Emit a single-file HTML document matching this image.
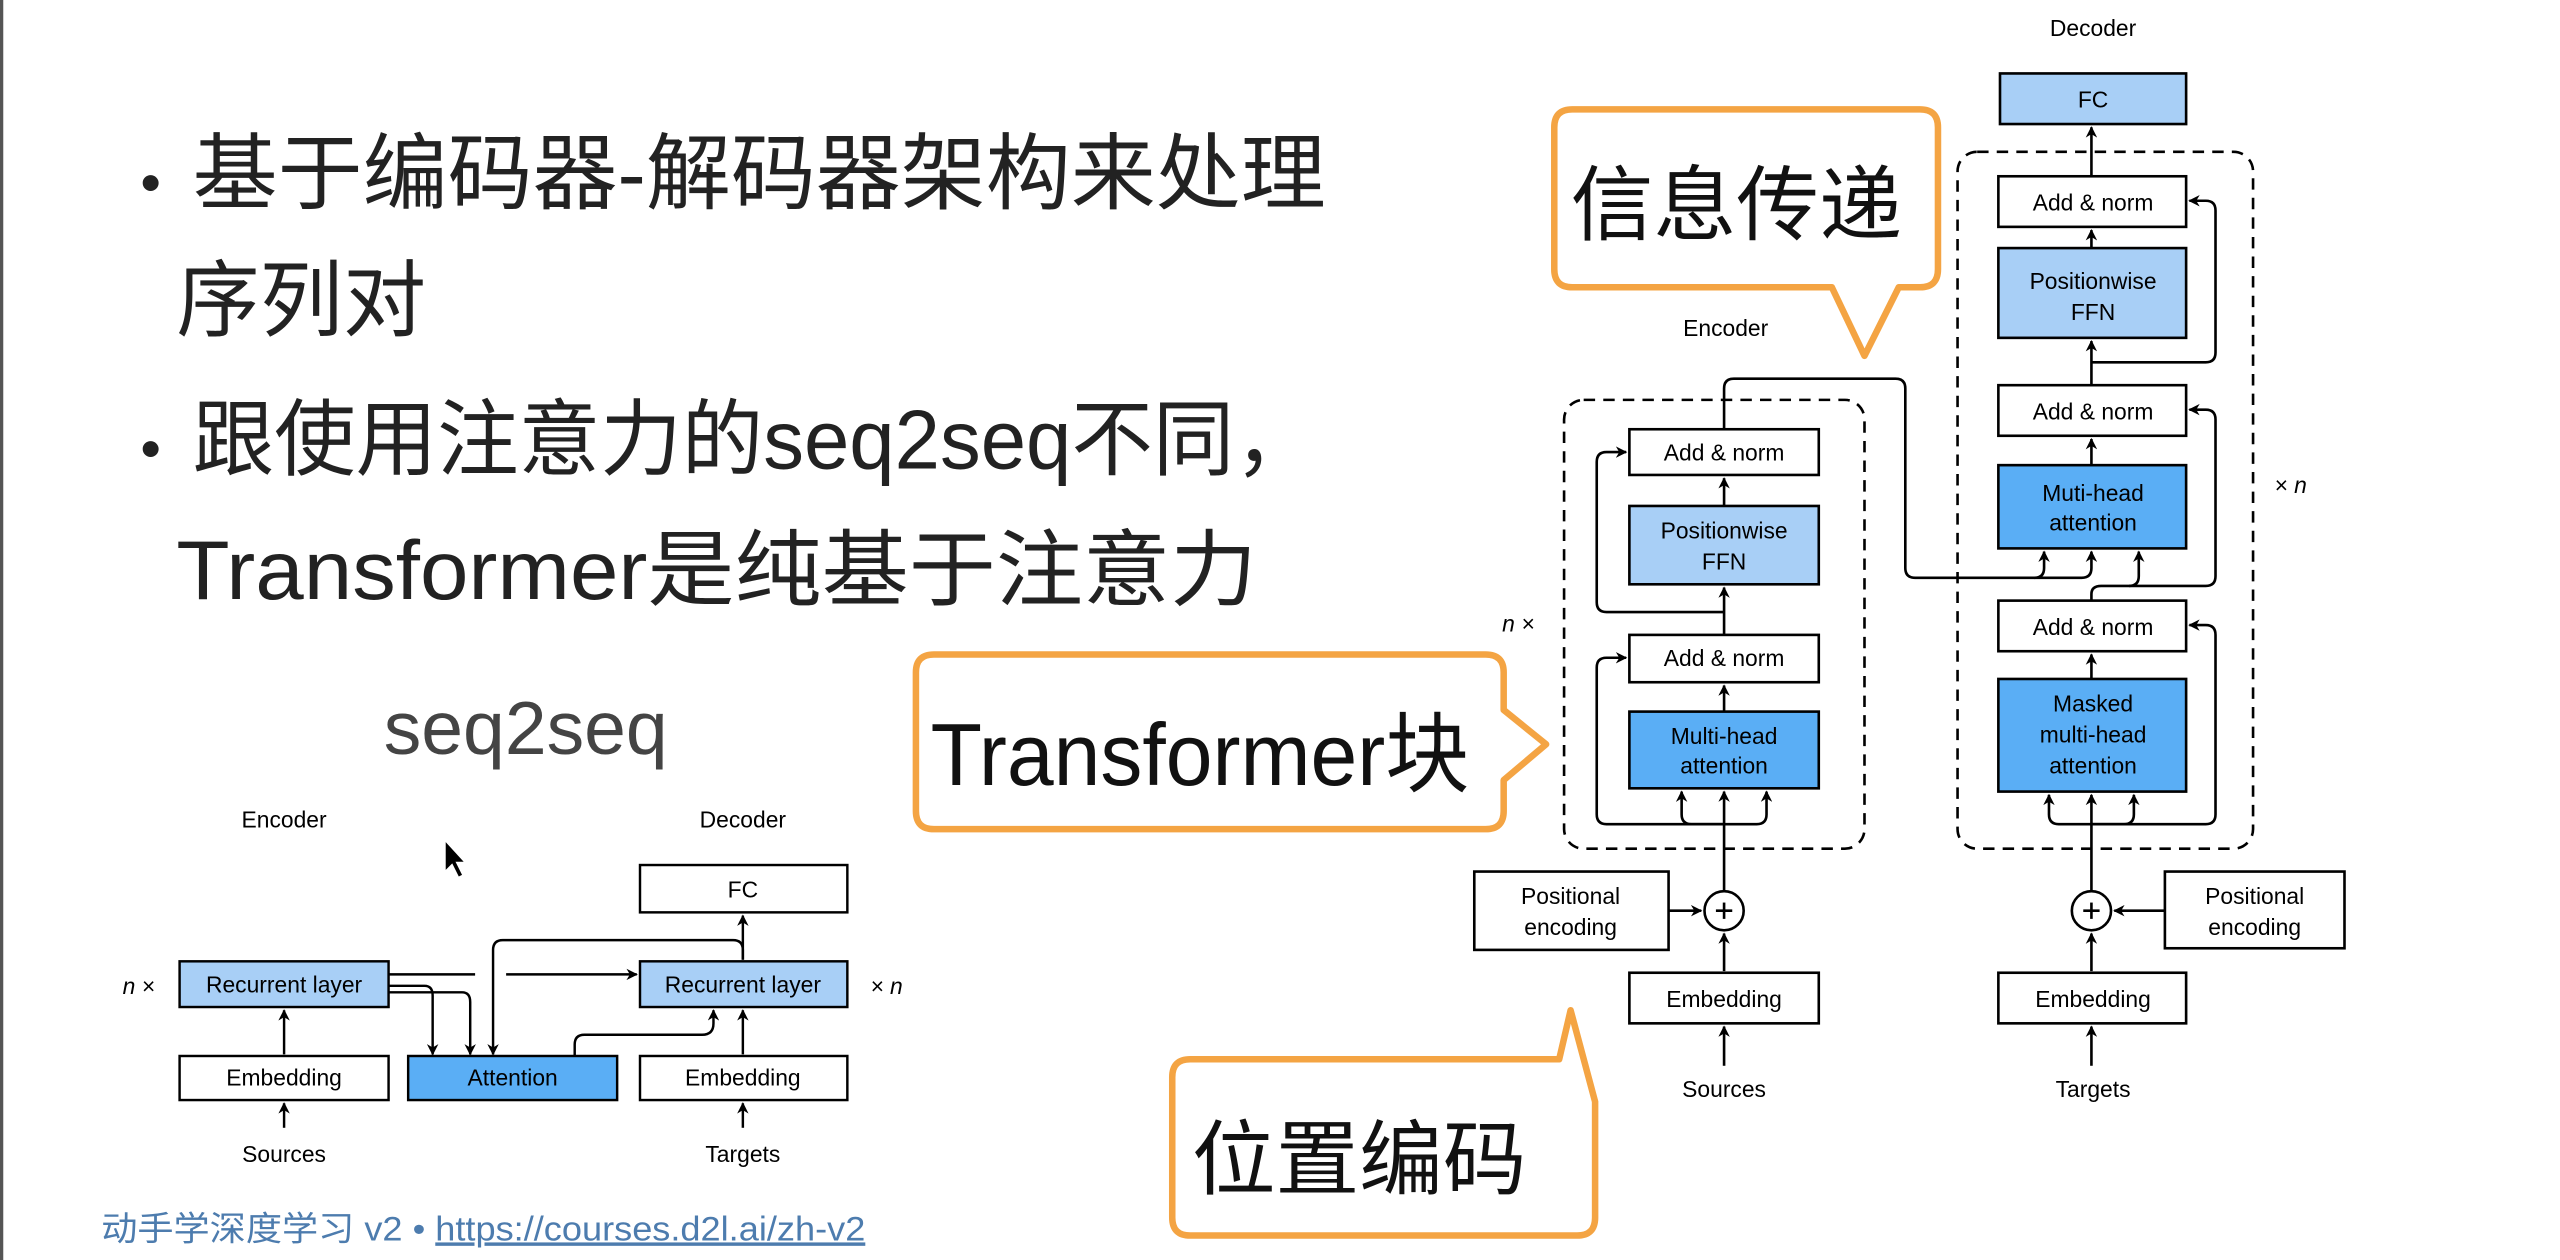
<!DOCTYPE html>
<html><head><meta charset="utf-8"><style>
html,body{margin:0;padding:0;background:#fff;}
svg{display:block;}
text{font-family:"Liberation Sans","Noto Sans CJK SC",sans-serif;}
</style></head><body>
<svg width="2560" height="1260" viewBox="0 0 1568 772" preserveAspectRatio="none" xmlns="http://www.w3.org/2000/svg">
<defs>
<marker id="a" viewBox="0 0 10 10" refX="9" refY="5" markerWidth="7" markerHeight="7" orient="auto-start-reverse" markerUnits="userSpaceOnUse"><path d="M0,0 L10,5 L0,10 L3,5 z" fill="#000"/></marker>
</defs>
<rect x="0" y="0" width="1568" height="772" fill="#fff"/>
<rect x="0" y="0" width="2" height="772" fill="#555"/>

<!-- left bullet text -->
<g fill="#222" font-size="51">
<text x="86" y="124" font-size="36">•</text>
<text x="118" y="124" textLength="694" lengthAdjust="spacingAndGlyphs">基于编码器-解码器架构来处理</text>
<text x="108" y="202">序列对</text>
<text x="86" y="287" font-size="36">•</text>
<text x="118" y="287" textLength="688" lengthAdjust="spacingAndGlyphs">跟使用注意力的seq2seq不同，</text>
<text x="108" y="367" textLength="662" lengthAdjust="spacingAndGlyphs">Transformer是纯基于注意力</text>
</g>
<text x="322" y="462" font-size="46" fill="#444" text-anchor="middle">seq2seq</text>

<!-- seq2seq diagram -->
<g font-size="14" text-anchor="middle" fill="#000">
<text x="174" y="507">Encoder</text>
<text x="455" y="507">Decoder</text>
<text x="85" y="609" font-family="Liberation Serif" font-style="italic">n ×</text>
<text x="543" y="609" font-family="Liberation Serif" font-style="italic">× n</text>
<rect x="110" y="589" width="128" height="28" fill="#a8cff6" stroke="#000" stroke-width="1.5"/>
<text x="174" y="608">Recurrent layer</text>
<rect x="110" y="647" width="128" height="27" fill="#fff" stroke="#000" stroke-width="1.5"/>
<text x="174" y="665">Embedding</text>
<rect x="250" y="647" width="128" height="27" fill="#5aaef5" stroke="#000" stroke-width="1.5"/>
<text x="314" y="665">Attention</text>
<rect x="392" y="530" width="127" height="29" fill="#fff" stroke="#000" stroke-width="1.5"/>
<text x="455" y="550">FC</text>
<rect x="392" y="589" width="127" height="28" fill="#a8cff6" stroke="#000" stroke-width="1.5"/>
<text x="455" y="608">Recurrent layer</text>
<rect x="392" y="647" width="127" height="27" fill="#fff" stroke="#000" stroke-width="1.5"/>
<text x="455" y="665">Embedding</text>
<text x="174" y="712">Sources</text>
<text x="455" y="712">Targets</text>
</g>
<g stroke="#000" stroke-width="1.5" fill="none">
<line x1="174" y1="691" x2="174" y2="676" marker-end="url(#a)"/>
<line x1="174" y1="646" x2="174" y2="619" marker-end="url(#a)"/>
<line x1="455" y1="691" x2="455" y2="676" marker-end="url(#a)"/>
<line x1="455" y1="646" x2="455" y2="619" marker-end="url(#a)"/>
<line x1="455" y1="588" x2="455" y2="561" marker-end="url(#a)"/>
<line x1="238" y1="597" x2="291" y2="597"/>
<line x1="310" y1="597" x2="390" y2="597" marker-end="url(#a)"/>
<path d="M238,604 H260 Q265,604 265,610 V646" marker-end="url(#a)"/>
<path d="M238,608 H283 Q288,608 288,614 V646" marker-end="url(#a)"/>
<path d="M455,588 V582 Q455,576 449,576 H308 Q302,576 302,582 V646" marker-end="url(#a)"/>
<path d="M352,647 V640 Q352,634 358,634 H430 Q437,634 437,627 V619" marker-end="url(#a)"/>
</g>
<path d="M273,516 L273,533 L277,529 L281,537 L283,536 L279,528 L284,528 Z" fill="#000"/>

<text x="62" y="760" font-size="21" fill="#4d7cae" textLength="468" lengthAdjust="spacingAndGlyphs">动手学深度学习 v2 • <tspan text-decoration="underline">https://courses.d2l.ai/zh-v2</tspan></text>

<!-- Transformer diagram -->
<g font-size="14" text-anchor="middle" fill="#000">
<text x="1282" y="22">Decoder</text>
<text x="1057" y="206">Encoder</text>
<text x="930" y="387" font-family="Liberation Serif" font-style="italic">n ×</text>
<text x="1403" y="302" font-family="Liberation Serif" font-style="italic">× n</text>
</g>
<g stroke="#000" stroke-width="1.6" stroke-dasharray="7,5" fill="none">
<rect x="958" y="245" width="184" height="275" rx="12"/>
<rect x="1199" y="93" width="181" height="427" rx="12"/>
</g>
<g font-size="14" text-anchor="middle" fill="#000" stroke-width="1.6">
<rect x="1225" y="45" width="114" height="31" fill="#a8cff6" stroke="#000"/><text x="1282" y="66">FC</text>
<rect x="1224" y="108" width="115" height="31" fill="#fff" stroke="#000"/><text x="1282" y="129">Add &amp; norm</text>
<rect x="1224" y="152" width="115" height="55" fill="#a8cff6" stroke="#000"/><text x="1282" y="177">Positionwise</text><text x="1282" y="196">FFN</text>
<rect x="1224" y="236" width="115" height="31" fill="#fff" stroke="#000"/><text x="1282" y="257">Add &amp; norm</text>
<rect x="1224" y="285" width="115" height="51" fill="#5aaef5" stroke="#000"/><text x="1282" y="307">Muti-head</text><text x="1282" y="325">attention</text>
<rect x="1224" y="368" width="115" height="31" fill="#fff" stroke="#000"/><text x="1282" y="389">Add &amp; norm</text>
<rect x="1224" y="416" width="115" height="69" fill="#5aaef5" stroke="#000"/><text x="1282" y="436">Masked</text><text x="1282" y="455">multi-head</text><text x="1282" y="474">attention</text>
<rect x="1326" y="534" width="110" height="47" fill="#fff" stroke="#000"/><text x="1381" y="554">Positional</text><text x="1381" y="573">encoding</text>
<rect x="1224" y="596" width="115" height="31" fill="#fff" stroke="#000"/><text x="1282" y="617">Embedding</text>
<text x="1282" y="672">Targets</text>

<rect x="998" y="263" width="116" height="28" fill="#fff" stroke="#000"/><text x="1056" y="282">Add &amp; norm</text>
<rect x="998" y="310" width="116" height="48" fill="#a8cff6" stroke="#000"/><text x="1056" y="330">Positionwise</text><text x="1056" y="349">FFN</text>
<rect x="998" y="389" width="116" height="29" fill="#fff" stroke="#000"/><text x="1056" y="408">Add &amp; norm</text>
<rect x="998" y="436" width="116" height="47" fill="#5aaef5" stroke="#000"/><text x="1056" y="456">Multi-head</text><text x="1056" y="474">attention</text>
<rect x="903" y="534" width="119" height="48" fill="#fff" stroke="#000"/><text x="962" y="554">Positional</text><text x="962" y="573">encoding</text>
<rect x="998" y="596" width="116" height="31" fill="#fff" stroke="#000"/><text x="1056" y="617">Embedding</text>
<text x="1056" y="672">Sources</text>
</g>
<g stroke="#000" stroke-width="1.6" fill="none">
<circle cx="1056" cy="558" r="12" fill="#fff"/><line x1="1051" y1="558" x2="1061" y2="558"/><line x1="1056" y1="553" x2="1056" y2="563"/>
<circle cx="1281" cy="558" r="12" fill="#fff"/><line x1="1276" y1="558" x2="1286" y2="558"/><line x1="1281" y1="553" x2="1281" y2="563"/>
<line x1="1056" y1="653" x2="1056" y2="629" marker-end="url(#a)"/>
<line x1="1056" y1="595" x2="1056" y2="572" marker-end="url(#a)"/>
<line x1="1022" y1="558" x2="1042" y2="558" marker-end="url(#a)"/>
<line x1="1056" y1="546" x2="1056" y2="485" marker-end="url(#a)"/>
<path d="M1056,505 H984 Q978,505 978,499 V409 Q978,403 984,403 H996" marker-end="url(#a)"/>
<path d="M1056,505 H1036 Q1030,505 1030,499 V485" marker-end="url(#a)"/>
<path d="M1056,505 H1076 Q1082,505 1082,499 V485" marker-end="url(#a)"/>
<line x1="1056" y1="436" x2="1056" y2="420" marker-end="url(#a)"/>
<line x1="1056" y1="389" x2="1056" y2="360" marker-end="url(#a)"/>
<path d="M1056,375 H984 Q978,375 978,369 V283 Q978,277 984,277 H996" marker-end="url(#a)"/>
<line x1="1056" y1="310" x2="1056" y2="293" marker-end="url(#a)"/>
<path d="M1056,263 V238 Q1056,232 1062,232 H1161 Q1167,232 1167,238 V348 Q1167,354 1173,354 H1246 Q1252,354 1252,348 V338" marker-end="url(#a)"/>
<path d="M1246,354 H1275 Q1281,354 1281,348 V338" marker-end="url(#a)"/>
<line x1="1281" y1="653" x2="1281" y2="629" marker-end="url(#a)"/>
<line x1="1281" y1="595" x2="1281" y2="572" marker-end="url(#a)"/>
<line x1="1326" y1="558" x2="1295" y2="558" marker-end="url(#a)"/>
<line x1="1281" y1="546" x2="1281" y2="487" marker-end="url(#a)"/>
<path d="M1281,505 H1261 Q1255,505 1255,499 V487" marker-end="url(#a)"/>
<path d="M1281,505 H1301 Q1307,505 1307,499 V487" marker-end="url(#a)"/>
<path d="M1281,505 H1351 Q1357,505 1357,499 V389 Q1357,383 1351,383 H1341" marker-end="url(#a)"/>
<line x1="1281" y1="416" x2="1281" y2="401" marker-end="url(#a)"/>
<path d="M1281,368 V364 Q1281,359 1287,359 H1304 Q1310,359 1310,353 V338" marker-end="url(#a)"/>
<path d="M1304,359 H1351 Q1357,359 1357,353 V257 Q1357,251 1351,251 H1341" marker-end="url(#a)"/>
<line x1="1281" y1="285" x2="1281" y2="269" marker-end="url(#a)"/>
<line x1="1281" y1="236" x2="1281" y2="209" marker-end="url(#a)"/>
<path d="M1281,222 H1351 Q1357,222 1357,216 V129 Q1357,123 1351,123 H1341" marker-end="url(#a)"/>
<line x1="1281" y1="152" x2="1281" y2="141" marker-end="url(#a)"/>
<line x1="1281" y1="108" x2="1281" y2="78" marker-end="url(#a)"/>
</g>

<g stroke="#f4a443" stroke-width="4" fill="#fff" stroke-linejoin="round">
<path d="M963,67 H1176 Q1187,67 1187,78 V165 Q1187,176 1176,176 H1163 L1142,218 L1122,176 H963 Q952,176 952,165 V78 Q952,67 963,67 Z"/>
<path d="M572,401 H910 Q921,401 921,412 V435 L947,456 L921,478 V497 Q921,508 910,508 H572 Q561,508 561,497 V412 Q561,401 572,401 Z"/>
<path d="M729,649 H955 L962,619 L977,675 V746 Q977,757 966,757 H729 Q718,757 718,746 V660 Q718,649 729,649 Z"/>
</g>
<g fill="#111">
<text x="962" y="143" font-size="50" textLength="203" lengthAdjust="spacingAndGlyphs">信息传递</text>
<text x="570" y="481" font-size="54" textLength="330" lengthAdjust="spacingAndGlyphs">Transformer块</text>
<text x="730" y="728" font-size="50" textLength="205" lengthAdjust="spacingAndGlyphs">位置编码</text>
</g>
</svg>
</body></html>
